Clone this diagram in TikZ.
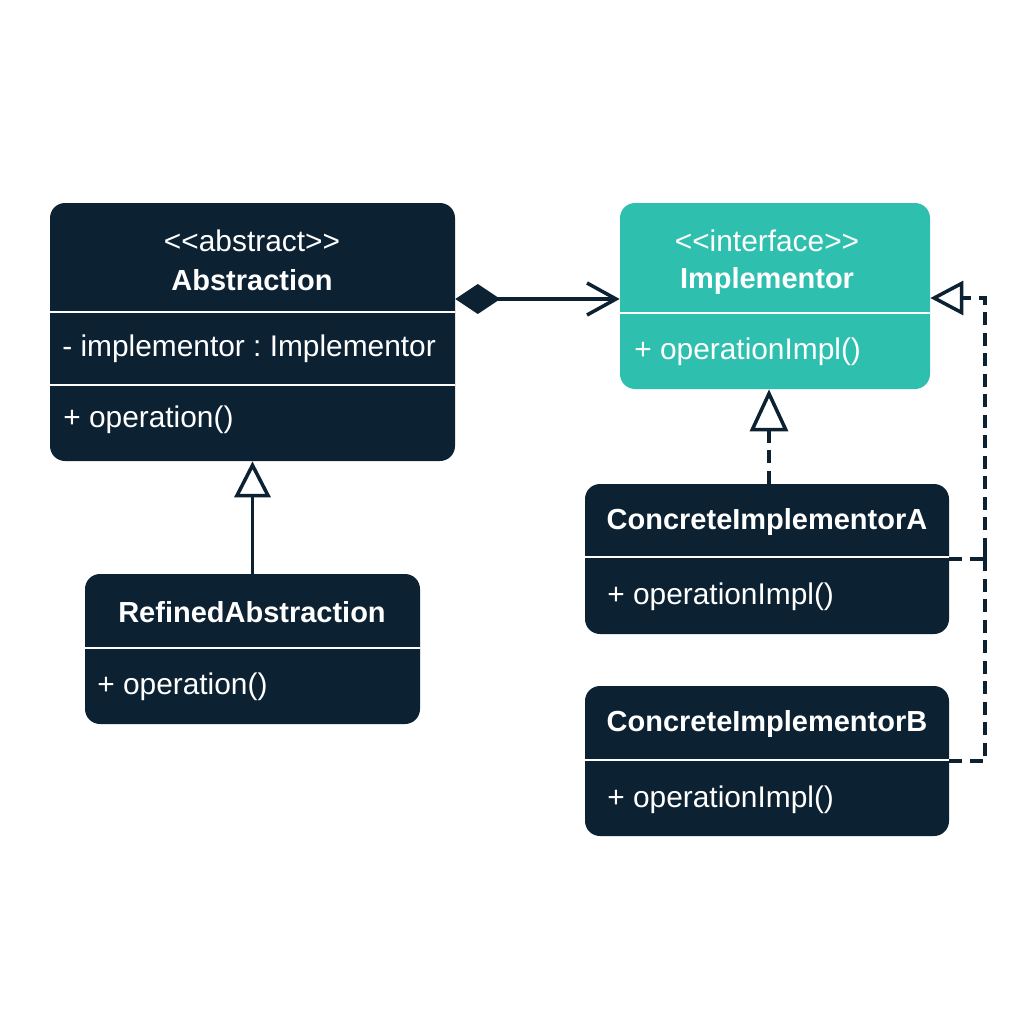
\documentclass[tikz,border=0pt]{standalone}
\usepackage{fontspec}
\setmainfont{Liberation Sans}
\frenchspacing
\usetikzlibrary{arrows.meta}
\definecolor{navy}{HTML}{0C2132}
\definecolor{tealbox}{HTML}{2EBFAE}

\begin{document}
\begin{tikzpicture}[x=0.02cm,y=-0.02cm,
  classbox/.style={fill=navy,rounded corners=0.3cm,inner sep=0pt},
  sepline/.style={white,line width=1.6pt},
  txt/.style={text=white,inner sep=0pt,font=\fontsize{17}{20}\selectfont},
  cname/.style={txt,font=\fontsize{16.5}{20}\selectfont\bfseries},
  link/.style={navy,line width=2pt},
  dashlink/.style={link,dash pattern=on 0.26cm off 0.15cm}]
  \useasboundingbox[fill=white](0,0) rectangle (1024,1024);
  % Abstraction
  \node[classbox,minimum width=405*0.02cm,minimum height=258*0.02cm] (abs) at (252.5,332) {};
  \draw[sepline](abs.west |- 0,312)--(abs.east |- 0,312);
  \draw[sepline](abs.west |- 0,385)--(abs.east |- 0,385);
  \node[txt] (absster) at (252,241) {<{}<abstract>{}>};
  \node[cname] (absname) at (252,280) {Abstraction};
  \node[txt,anchor=west] (absattr) at (62,349) {- implementor : Implementor};
  \node[txt,anchor=west] (absop) at (63,420) {+ operation()};
  % Implementor
  \node[classbox,fill=tealbox,minimum width=310*0.02cm,minimum height=186*0.02cm] (impl) at (775,296) {};
  \draw[sepline](impl.west |- 0,313)--(impl.east |- 0,313);
  \node[txt] (implster) at (767,241) {<{}<interface>{}>};
  \node[cname] (implname) at (767,281) {Implementor};
  \node[txt,anchor=west] (implop) at (634,352) {+ operationImpl()};
  % RefinedAbstraction
  \node[classbox,minimum width=335*0.02cm,minimum height=150*0.02cm] (refined) at (252.5,649) {};
  \draw[sepline](refined.west |- 0,648)--(refined.east |- 0,648);
  \node[cname] (refname) at (252,612) {RefinedAbstraction};
  \node[txt,anchor=west] (refop) at (97,687) {+ operation()};
  % ConcreteImplementorA
  \node[classbox,minimum width=364*0.02cm,minimum height=150*0.02cm] (concA) at (767,559) {};
  \draw[sepline](concA.west |- 0,557)--(concA.east |- 0,557);
  \node[cname] (concAname) at (767,522) {ConcreteImplementorA};
  \node[txt,anchor=west] (concAop) at (607,597) {+ operationImpl()};
  % ConcreteImplementorB
  \node[classbox,minimum width=364*0.02cm,minimum height=150*0.02cm] (concB) at (767,761) {};
  \draw[sepline](concB.west |- 0,760)--(concB.east |- 0,760);
  \node[cname] (concBname) at (767,724) {ConcreteImplementorB};
  \node[txt,anchor=west] (concBop) at (607,800) {+ operationImpl()};
  % composition
  \draw[link,{Diamond[length=0.9cm,width=0.6cm]}-{Straight Barb[length=0.58cm,width=0.64cm]}]
    ([yshift=-0.06cm]abs.east |- impl.west)--([yshift=-0.06cm]impl.west);
  % generalization
  \draw[link,-{Triangle[open,length=0.72cm,width=0.72cm,fill=white]}](refined.north)--(abs.south);
  % realization
  \draw[dashlink,-{Triangle[open,length=0.84cm,width=0.76cm,fill=white]}]
    ([xshift=0.04cm]concA.north)--([xshift=0.04cm]concA.north |- impl.south);
  \coordinate (bus) at (985,298);
  \draw[dashlink,-{Triangle[open,length=0.66cm,width=0.68cm,fill=white]}]
    (concB.east)--(concB.east -| bus)--(bus)--(impl.east |- bus);
  \draw[dashlink](concA.east)--(concA.east -| bus);
  \draw[link](985,548)--(985,566);
\end{tikzpicture}
\end{document}
